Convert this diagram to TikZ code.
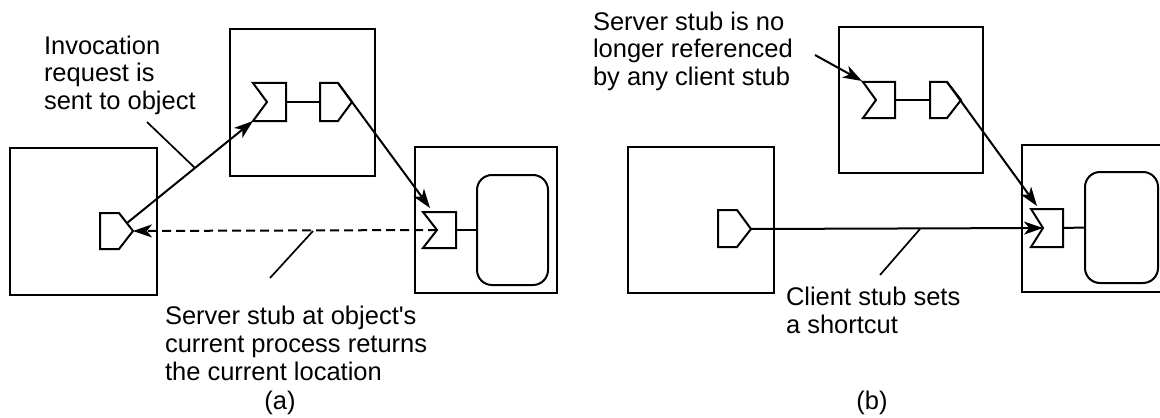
\documentclass[tikz,border=0pt]{standalone}
\usepackage{fontspec}
\setmainfont{Liberation Sans}
\usetikzlibrary{arrows.meta,fit}
\begin{document}
\begin{tikzpicture}[x=0.5pt,y=-0.5pt,
  line width=1pt,
  procbox/.style={draw,inner sep=0pt,line width=1pt},
  objbox/.style={draw,inner sep=0pt,rounded corners=7.5pt,line width=1pt},
  stub/.style={draw,line width=1pt,line join=miter},
  lbl/.style={align=left,inner sep=0pt,anchor=base west,font=\fontsize{12.75pt}{14pt}\selectfont},
  captext/.style={inner sep=0pt,anchor=base,font=\fontsize{12.75pt}{14pt}\selectfont},
  arr/.style={-{Stealth[length=9.5pt,width=6.5pt,inset=2.6pt]}},
  ptr/.style={line width=0.85pt},
  dashline/.style={dash pattern=on 4.5pt off 2.5pt}]
\useasboundingbox (0,0) rectangle (1160,417);

% ---------------- (a) ----------------
\node[procbox,fit={(10,148) (157,295)}] (A1) {};
\node[procbox,fit={(230,29) (375,176)}] (B1) {};
\node[procbox,fit={(415,147) (557,293)}] (R1) {};
\node[objbox,fit={(477,175) (548,285)}] (O1) {};

% client stub in A1
\draw[stub] (100,213) -- (119,213) -- (133,231) -- (119,249) -- (100,249) -- cycle;
\coordinate (c1tip) at (133,231);
\coordinate (c1diag) at (127,223);
% server stub in B1
\draw[stub] (253,83) -- (286,83) -- (286,121) -- (253,121) -- (267,102) -- cycle;
\coordinate (s2right) at (286,102);
\coordinate (s2corner) at (253,121);
% client stub in B1
\draw[stub] (320,83) -- (338,83) -- (352,102) -- (338,121) -- (320,121) -- cycle;
\coordinate (c2left) at (320,102);
\coordinate (c2top) at (338,83);
\draw (s2right) -- (c2left);
% server stub in R1
\draw[stub] (423,212) -- (456,212) -- (456,248) -- (423,248) -- (437,230) -- cycle;
\coordinate (s3right) at (456,230);
\coordinate (s3notch) at (437,230);
\coordinate (s3corner) at (430,208);
\draw (s3right) -- (O1.west);

% connectors (a)
\draw[arr] (c1diag) -- (s2corner);
\draw[arr] (c2top) -- (s3corner);
\draw[arr,dashline] (s3notch) -- (c1tip);

% labels (a)
\node[lbl] (L1) at (43,110) {Invocation\\request is\\sent to object};
\coordinate (p1a) at (147,122);
\coordinate (p1b) at (195,168);
\draw[ptr] (p1a) -- (p1b);
\node[lbl] (L2) at (164,380) {Server stub at object\textquotesingle s\\current process returns\\the current location};
\coordinate (p2a) at (270,278);
\coordinate (p2b) at (313,231);
\draw[ptr] (p2a) -- (p2b);
\node[captext] (capA) at (280,409) {(a)};

% ---------------- (b) ----------------
\node[procbox,fit={(628,147) (774,293)}] (A2) {};
\node[procbox,fit={(839,27) (983,173)}] (B2) {};
\begin{scope}
\clip (0,0) rectangle (1160,417);
\node[procbox,fit={(1022,145) (1164,292)}] (R2) {};
\end{scope}
\node[objbox,fit={(1085,172) (1158,283)}] (O2) {};

% client stub in A2
\draw[stub] (718,210) -- (737,210) -- (751,229) -- (737,247) -- (718,247) -- cycle;
\coordinate (c4tip) at (751,229);
% server stub in B2
\draw[stub] (863,82) -- (895,82) -- (895,118) -- (863,118) -- (876,100) -- cycle;
\coordinate (s5right) at (895,100);
\coordinate (s5corner) at (862,81);
% client stub in B2
\draw[stub] (930,82) -- (947,82) -- (961,100) -- (947,118) -- (930,118) -- cycle;
\coordinate (c5left) at (930,100);
\coordinate (c5top) at (947,82);
\draw (s5right) -- (c5left);
% server stub in R2
\draw[stub] (1031,209) -- (1063,209) -- (1063,247) -- (1031,247) -- (1043,228) -- cycle;
\coordinate (s6right) at (1063,228);
\coordinate (s6notch) at (1043,228);
\coordinate (s6corner) at (1037,206);
\draw (s6right) -- (O2.west);

% connectors (b)
\draw[arr] (c4tip) -- (s6notch);
\draw[arr] (c5top) -- (s6corner);

% labels (b)
\node[lbl] (L3) at (592,86) {Server stub is no\\longer referenced\\by any client stub};
\coordinate (p3a) at (815,55);
\draw[arr] (p3a) -- (s5corner);
\node[lbl] (L4) at (785,333) {Client stub sets\\a shortcut};
\coordinate (p4a) at (880,275);
\coordinate (p4b) at (920,229);
\draw[ptr] (p4a) -- (p4b);
\node[captext] (capB) at (872,409) {(b)};
\end{tikzpicture}
\end{document}
